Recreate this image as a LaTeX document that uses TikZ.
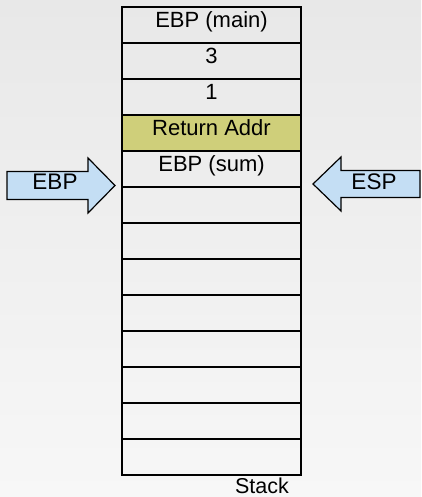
\documentclass[tikz,border=0pt]{standalone}
\usepackage{fontspec}
\setmainfont{Liberation Sans}
\usetikzlibrary{positioning}
\definecolor{bgtop}{RGB}{232,232,232}
\definecolor{bgbot}{RGB}{247,247,247}
\definecolor{retfill}{RGB}{207,207,122}
\definecolor{ptrfill}{RGB}{196,222,244}
\begin{document}
\begin{tikzpicture}[x=1pt,y=1pt,
  cell/.style={draw, line width=1.2pt, minimum width=179pt, minimum height=36pt,
    inner sep=0pt, outer sep=0pt, text height=0.72em, text depth=0.26em,
    font=\fontsize{22}{26}\selectfont},
  ptr/.style={draw, line width=1.2pt, fill=ptrfill, line join=miter},
  ptrlabel/.style={inner sep=0pt, anchor=base, font=\fontsize{22.5}{26}\selectfont},
  caption/.style={inner sep=0pt, anchor=base, font=\fontsize{21.5}{25}\selectfont}]
  % background
  \shade[top color=bgtop, bottom color=bgbot] (0,0) rectangle (421,497);
  \useasboundingbox (0,0) rectangle (421,497);

  % stack cells, top to bottom
  \node[cell, anchor=north] (c1) at (211.5,490) {EBP (main)};
  \node[cell, below=0pt of c1] (c2) {3};
  \node[cell, below=0pt of c2] (c3) {1};
  \node[cell, below=0pt of c3, fill=retfill] (c4) {Return Addr};
  \node[cell, below=0pt of c4] (c5) {EBP (sum)};
  \node[cell, below=0pt of c5] (c6) {};
  \node[cell, below=0pt of c6] (c7) {};
  \node[cell, below=0pt of c7] (c8) {};
  \node[cell, below=0pt of c8] (c9) {};
  \node[cell, below=0pt of c9] (c10) {};
  \node[cell, below=0pt of c10] (c11) {};
  \node[cell, below=0pt of c11] (c12) {};
  \node[cell, below=0pt of c12] (c13) {};
  \node[caption] (stk) at (262,3.2) {Stack};

  % frame pointer arrow (left)
  \draw[ptr] (7,325.5) -- (88,325.5) -- (88,339) -- (115,311.5)
    -- (88,284) -- (88,297.5) -- (7,297.5) -- cycle;
  \node[ptrlabel] (ebp) at (55,307) {EBP};

  % stack pointer arrow (right)
  \draw[ptr] (420,326.5) -- (341,326.5) -- (341,340) -- (313,313)
    -- (341,286) -- (341,299.5) -- (420,299.5) -- cycle;
  \node[ptrlabel] (esp) at (374,307.7) {ESP};
\end{tikzpicture}
\end{document}
